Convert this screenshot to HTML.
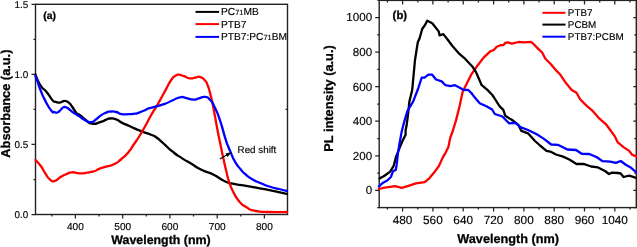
<!DOCTYPE html><html><head><meta charset="utf-8"><style>html,body{margin:0;padding:0;background:#fff;width:637px;height:247px;overflow:hidden}svg{display:block;will-change:transform}text{font-family:"Liberation Sans",sans-serif;fill:#000;stroke:#000;stroke-width:0.15px;text-rendering:geometricPrecision}text.b{font-weight:bold;stroke-width:0.3px}</style></head><body>
<svg width="637" height="247" viewBox="0 0 637 247">
<rect x="35.5" y="4.3" width="252.0" height="210.2" fill="none" stroke="#222" stroke-width="1.4"/>
<path d="M31.5 214.5 H35.5 M33.5 179.5 H35.5 M31.5 144.4 H35.5 M33.5 109.4 H35.5 M31.5 74.4 H35.5 M33.5 39.3 H35.5 M31.5 4.3 H35.5 M51.8 214.5 V216.5 M75.4 214.5 V218.5 M99.0 214.5 V216.5 M122.7 214.5 V218.5 M146.3 214.5 V216.5 M169.9 214.5 V218.5 M193.5 214.5 V216.5 M217.2 214.5 V218.5 M240.8 214.5 V216.5 M264.4 214.5 V218.5 M287.5 109.4 H285.5" stroke="#222" stroke-width="1.25" fill="none"/>
<text x="28.2" y="217.8" font-size="9.9" text-anchor="end">0.0</text>
<text x="28.2" y="147.7" font-size="9.9" text-anchor="end">0.5</text>
<text x="28.2" y="77.7" font-size="9.9" text-anchor="end">1.0</text>
<text x="28.2" y="7.6" font-size="9.9" text-anchor="end">1.5</text>
<text x="75.4" y="230.2" font-size="10.1" text-anchor="middle">400</text>
<text x="122.7" y="230.2" font-size="10.1" text-anchor="middle">500</text>
<text x="169.9" y="230.2" font-size="10.1" text-anchor="middle">600</text>
<text x="217.2" y="230.2" font-size="10.1" text-anchor="middle">700</text>
<text x="264.4" y="230.2" font-size="10.1" text-anchor="middle">800</text>
<text x="161" y="243.7" font-size="12.4" class="b" text-anchor="middle">Wavelength (nm)</text>
<text transform="translate(10.2,103.6) rotate(-90)" font-size="12.8" class="b" text-anchor="middle">Absorbance (a.u.)</text>
<text x="43.3" y="19.3" font-size="10.4" class="b">(a)</text>
<g fill="none" stroke-width="2.3" stroke-linejoin="round" stroke-linecap="round">
<path d="M35.5 74.5 C36.2 76.4 35.7 76.1 37.7 80.2 C39.7 84.3 39.0 83.3 41.5 86.8 C44.0 90.3 42.8 87.7 45.3 90.6 C47.8 93.5 46.6 92.0 49.1 95.4 C51.6 98.8 50.7 98.5 52.9 100.7 C55.1 102.9 53.6 101.3 55.8 101.9 C58.0 102.5 57.4 102.7 59.6 102.6 C61.8 102.5 60.5 102.0 62.4 101.5 C64.3 101.0 63.1 100.5 65.3 101.0 C67.5 101.5 66.9 101.2 69.1 103.0 C71.3 104.8 69.5 103.1 72.0 106.5 C74.5 109.9 74.0 110.4 76.7 113.3 C79.4 116.2 76.9 112.8 80.0 115.1 C83.1 117.4 82.1 117.3 86.1 120.2 C90.1 123.1 87.4 123.0 92.1 123.7 C96.8 124.4 95.5 123.5 100.2 122.2 C104.9 120.9 103.0 120.9 106.3 119.7 C109.6 118.5 106.7 118.6 110.0 118.5 C113.3 118.4 112.2 117.9 116.1 119.3 C120.0 120.7 117.1 120.3 121.7 122.6 C126.3 124.9 125.4 124.2 129.8 126.2 C134.2 128.2 131.0 126.9 135.0 128.6 C139.0 130.3 136.4 129.3 141.9 131.4 C147.4 133.5 146.7 133.0 151.6 135.0 C156.5 137.0 152.5 134.6 156.5 137.5 C160.5 140.4 158.4 139.0 163.7 143.6 C169.0 148.2 166.3 146.6 172.3 151.4 C178.3 156.2 175.4 154.0 181.8 158.1 C188.2 162.2 185.0 160.0 191.4 163.8 C197.8 167.6 193.5 165.8 200.9 169.5 C208.3 173.2 206.2 171.1 213.7 174.8 C221.2 178.5 216.9 177.5 223.3 180.5 C229.7 183.5 225.2 181.9 232.8 183.7 C240.4 185.5 236.0 184.1 246.1 185.8 C256.2 187.5 253.4 187.1 263.2 188.9 C273.0 190.7 267.5 189.7 275.4 191.3 C283.3 192.9 283.1 193.0 287.0 193.8" stroke="#000"/>
<path d="M35.5 160.0 C37.2 161.9 37.3 161.3 40.6 165.7 C43.9 170.1 42.1 168.7 45.3 173.3 C48.5 177.9 46.9 177.1 50.1 179.6 C53.3 182.1 51.3 181.7 54.8 180.9 C58.3 180.1 56.7 179.3 60.5 177.1 C64.3 174.9 62.4 175.8 66.2 174.2 C70.0 172.6 67.6 172.6 72.0 172.3 C76.4 172.0 74.4 173.2 79.5 173.3 C84.6 173.4 82.1 173.5 87.2 172.7 C92.3 171.9 91.0 172.2 94.8 171.0 C98.6 169.8 94.8 170.6 98.6 169.1 C102.4 167.6 101.1 168.2 106.2 166.6 C111.3 165.0 108.7 166.8 113.8 164.3 C118.9 161.8 116.3 163.3 121.4 159.0 C126.5 154.7 125.0 156.1 129.0 151.4 C133.0 146.7 129.1 151.5 133.4 145.0 C137.7 138.5 136.0 142.0 141.9 132.0 C147.8 122.0 146.6 123.1 151.2 115.0 C155.8 106.9 152.7 112.6 155.6 107.8 C158.5 103.0 156.4 106.7 159.8 100.6 C163.2 94.5 162.0 96.5 165.8 89.6 C169.6 82.7 168.0 84.6 171.2 80.0 C174.4 75.4 172.9 77.6 175.5 75.8 C178.1 74.0 176.2 74.6 179.0 74.7 C181.8 74.8 180.4 75.0 184.0 76.2 C187.6 77.4 186.1 77.8 189.8 78.3 C193.5 78.8 191.8 78.2 195.2 77.7 C198.6 77.2 196.7 76.1 199.9 76.9 C203.1 77.7 202.2 77.5 204.7 80.2 C207.2 82.9 205.6 80.2 207.5 84.9 C209.4 89.6 208.6 87.4 210.4 94.4 C212.2 101.4 210.7 94.4 213.0 105.8 C215.3 117.2 214.8 115.9 217.2 128.5 C219.6 141.1 218.2 133.5 220.3 143.7 C222.4 153.9 221.3 148.8 223.5 159.0 C225.7 169.2 225.2 166.7 227.0 174.2 C228.8 181.7 227.1 175.8 229.0 181.4 C230.9 187.0 229.6 184.6 232.8 190.9 C236.0 197.2 234.1 195.0 238.5 200.4 C242.9 205.8 240.4 203.6 246.1 207.1 C251.8 210.6 248.0 209.4 255.6 211.0 C263.2 212.6 258.4 211.7 268.9 212.0 C279.4 212.3 281.0 212.0 287.0 212.0" stroke="#ff0000"/>
<path d="M35.5 76.0 C36.3 78.3 36.5 78.6 38.0 83.0 C39.5 87.4 37.7 83.4 40.1 89.2 C42.5 95.0 41.4 93.3 45.1 100.4 C48.8 107.5 48.1 106.6 51.2 110.5 C54.3 114.4 52.3 111.3 54.3 112.0 C56.3 112.7 55.2 113.2 57.3 112.5 C59.4 111.8 58.4 111.8 60.5 110.0 C62.6 108.2 61.5 108.0 63.5 107.2 C65.5 106.4 64.5 106.7 66.5 107.5 C68.5 108.3 67.5 108.0 69.5 109.5 C71.5 111.0 69.5 109.9 72.5 112.0 C75.5 114.1 74.3 113.1 78.5 115.8 C82.7 118.5 80.9 118.1 85.1 120.2 C89.3 122.3 87.4 122.5 91.1 122.2 C94.8 121.9 92.8 121.6 96.2 119.2 C99.6 116.8 97.9 117.3 101.3 115.1 C104.7 112.9 103.4 113.8 106.3 112.6 C109.2 111.4 106.7 111.8 110.0 111.6 C113.3 111.4 112.2 111.2 116.1 112.0 C120.0 112.8 117.4 113.4 121.7 114.1 C126.0 114.8 124.6 114.2 129.0 114.1 C133.4 114.0 131.8 114.1 135.0 113.7 C138.2 113.3 135.2 113.9 138.5 112.8 C141.8 111.7 141.8 111.7 145.0 110.3 C148.2 108.9 144.6 109.8 148.0 108.6 C151.4 107.4 149.6 108.3 155.2 106.7 C160.8 105.1 159.0 106.0 164.7 103.9 C170.4 101.8 167.2 102.7 172.3 100.5 C177.4 98.3 175.5 98.2 179.9 97.3 C184.3 96.4 181.1 97.1 185.6 97.9 C190.1 98.7 188.8 99.4 193.3 99.6 C197.8 99.8 195.1 99.3 199.0 98.4 C202.9 97.5 201.4 96.4 205.1 96.9 C208.8 97.4 207.0 96.4 210.2 100.0 C213.4 103.6 211.5 100.7 214.8 107.6 C218.1 114.5 216.6 110.3 220.1 120.6 C223.6 130.9 222.6 129.8 225.4 138.6 C228.2 147.4 226.8 142.7 228.4 147.0 C230.0 151.3 228.1 146.4 230.3 151.4 C232.5 156.4 231.6 155.9 235.1 161.9 C238.6 167.9 237.5 165.5 240.8 169.5 C244.1 173.5 241.2 170.5 245.0 173.8 C248.8 177.1 247.0 176.2 252.3 179.3 C257.6 182.4 255.1 180.8 260.8 183.2 C266.5 185.6 263.2 184.6 269.3 186.5 C275.4 188.4 273.2 187.5 279.1 189.0 C285.0 190.5 284.4 190.3 287.0 190.9" stroke="#0000ff"/>
</g>
<path d="M195.5 11.9 H219.1" stroke="#000" stroke-width="2"/>
<path d="M195.5 24.1 H219.1" stroke="#ff0000" stroke-width="2"/>
<path d="M195.5 36.9 H219.1" stroke="#0000ff" stroke-width="2"/>
<text x="221" y="14.7" font-size="10.2">PC<tspan font-size="7.4">71</tspan>MB</text>
<text x="221" y="27.6" font-size="10.2">PTB7</text>
<text x="221" y="39.7" font-size="10.2">PTB7:PC<tspan font-size="7.4">71</tspan>BM</text>
<path d="M219.9 159 L227 154.8" stroke="#000" stroke-width="1.1"/>
<path d="M231.8 152 L225.4 153.4 L227.6 157.1 Z" fill="#000"/>
<text x="237.6" y="152.8" font-size="9.8">Red shift</text>
<rect x="379.2" y="0.4" width="257.1" height="207.2" fill="none" stroke="#222" stroke-width="1.4"/>
<path d="M377.2 207.7 H379.2 M636.3 207.7 H634.3 M375.2 190.4 H379.2 M636.3 190.4 H633.3 M377.2 173.1 H379.2 M636.3 173.1 H634.3 M375.2 155.8 H379.2 M636.3 155.8 H633.3 M377.2 138.5 H379.2 M636.3 138.5 H634.3 M375.2 121.2 H379.2 M636.3 121.2 H633.3 M377.2 104.0 H379.2 M636.3 104.0 H634.3 M375.2 86.7 H379.2 M636.3 86.7 H633.3 M377.2 69.4 H379.2 M636.3 69.4 H634.3 M375.2 52.1 H379.2 M636.3 52.1 H633.3 M377.2 34.8 H379.2 M636.3 34.8 H634.3 M375.2 17.5 H379.2 M636.3 17.5 H633.3 M377.2 0.2 H379.2 M636.3 0.2 H634.3 M387.4 207.6 V209.6 M387.4 0.4 V2.4 M402.6 207.6 V211.6 M402.6 0.4 V4.4 M417.8 207.6 V209.6 M417.8 0.4 V2.4 M432.9 207.6 V211.6 M432.9 0.4 V4.4 M448.1 207.6 V209.6 M448.1 0.4 V2.4 M463.2 207.6 V211.6 M463.2 0.4 V4.4 M478.4 207.6 V209.6 M478.4 0.4 V2.4 M493.6 207.6 V211.6 M493.6 0.4 V4.4 M508.7 207.6 V209.6 M508.7 0.4 V2.4 M523.9 207.6 V211.6 M523.9 0.4 V4.4 M539.0 207.6 V209.6 M539.0 0.4 V2.4 M554.2 207.6 V211.6 M554.2 0.4 V4.4 M569.4 207.6 V209.6 M569.4 0.4 V2.4 M584.5 207.6 V211.6 M584.5 0.4 V4.4 M599.7 207.6 V209.6 M599.7 0.4 V2.4 M614.8 207.6 V211.6 M614.8 0.4 V4.4 M630.0 207.6 V209.6 M630.0 0.4 V2.4" stroke="#222" stroke-width="1.25" fill="none"/>
<text x="372.1" y="194.2" font-size="11.6" text-anchor="end">0</text>
<text x="372.1" y="159.6" font-size="11.6" text-anchor="end">200</text>
<text x="372.1" y="125.0" font-size="11.6" text-anchor="end">400</text>
<text x="372.1" y="90.5" font-size="11.6" text-anchor="end">600</text>
<text x="372.1" y="55.9" font-size="11.6" text-anchor="end">800</text>
<text x="372.1" y="21.3" font-size="11.6" text-anchor="end">1000</text>
<text x="402.6" y="224.1" font-size="11.8" text-anchor="middle">480</text>
<text x="432.9" y="224.1" font-size="11.8" text-anchor="middle">560</text>
<text x="463.2" y="224.1" font-size="11.8" text-anchor="middle">640</text>
<text x="493.6" y="224.1" font-size="11.8" text-anchor="middle">720</text>
<text x="523.9" y="224.1" font-size="11.8" text-anchor="middle">800</text>
<text x="554.2" y="224.1" font-size="11.8" text-anchor="middle">880</text>
<text x="584.5" y="224.1" font-size="11.8" text-anchor="middle">960</text>
<text x="614.8" y="224.1" font-size="11.8" text-anchor="middle">1040</text>
<text x="508.2" y="243.4" font-size="12.7" class="b" text-anchor="middle">Wavelength (nm)</text>
<text transform="translate(333.3,98.5) rotate(-90)" font-size="12.8" class="b" text-anchor="middle">PL intensity (a.u.)</text>
<text x="392.6" y="18.6" font-size="11.4" class="b">(b)</text>
<g fill="none" stroke-width="2.3" stroke-linejoin="round" stroke-linecap="round">
<path d="M379.0 189.0 L384.5 187.6 L390.2 186.9 L395.1 186.2 L401.8 187.8 L408.4 185.9 L416.0 183.4 L424.6 182.1 L429.3 178.3 L434.1 172.6 L438.9 166.0 L442.7 157.6 L445.5 152.8 L448.4 147.1 L450.3 137.6 L453.1 130.0 L456.0 120.4 L459.8 105.2 L462.6 91.9 L465.5 86.1 L471.2 74.7 L477.8 65.2 L483.6 57.6 L490.2 51.4 L493.8 50.0 L496.7 46.7 L500.5 45.2 L503.3 45.2 L505.2 42.9 L508.1 42.4 L511.9 43.7 L518.5 42.0 L524.2 42.4 L530.9 41.8 L532.8 43.3 L537.5 48.1 L542.3 52.8 L545.2 58.5 L550.9 64.2 L556.6 70.9 L560.4 74.8 L566.1 83.3 L571.8 90.0 L576.5 92.8 L580.3 99.5 L587.0 106.1 L592.7 110.9 L598.4 117.6 L606.0 124.3 L610.2 130.0 L615.0 136.7 L617.8 142.4 L623.5 147.1 L629.2 150.9 L632.1 154.7 L637.0 156.6" stroke="#ff0000"/>
<path d="M379.5 178.6 L384.5 175.8 L390.2 171.6 L393.7 165.8 L396.1 156.6 L399.9 147.1 L402.7 140.5 L405.6 134.8 L405.6 130.0 L406.5 126.1 L408.0 114.7 L409.4 101.4 L412.2 90.0 L413.8 72.8 L415.0 60.0 L417.8 42.3 L419.6 38.3 L421.0 33.2 L422.3 28.7 L425.0 25.0 L427.2 20.8 L432.3 23.2 L435.0 26.8 L438.7 31.4 L439.6 35.4 L443.3 34.1 L447.0 38.7 L452.4 46.0 L459.7 54.2 L465.0 58.7 L472.1 66.2 L475.9 71.9 L478.8 78.5 L481.7 85.2 L487.4 89.9 L492.1 94.7 L494.0 97.5 L499.5 106.1 L503.3 109.9 L505.2 115.7 L512.8 120.5 L518.5 125.2 L521.4 130.9 L528.0 133.3 L535.0 141.0 L540.0 145.5 L546.5 150.9 L551.2 151.9 L556.0 154.5 L563.0 156.6 L569.3 159.5 L576.5 164.0 L583.6 163.8 L591.2 166.5 L598.0 167.4 L605.0 171.0 L609.0 174.0 L612.1 172.6 L617.8 173.0 L620.7 173.5 L623.5 177.0 L629.2 175.6 L637.0 178.1" stroke="#000"/>
<path d="M379.0 186.3 L383.1 182.7 L387.3 180.5 L390.9 177.0 L393.0 171.3 L395.8 169.9 L396.6 165.0 L398.0 152.8 L399.9 141.4 L401.8 131.0 L404.6 120.4 L407.5 110.9 L413.2 101.4 L418.0 89.0 L421.7 77.6 L424.6 77.6 L428.4 74.7 L432.2 74.7 L436.0 79.5 L441.7 81.4 L445.5 85.2 L450.3 86.1 L455.0 85.2 L459.8 87.7 L463.6 89.9 L468.3 90.0 L471.2 92.8 L474.0 96.6 L479.7 103.3 L486.4 106.2 L492.1 109.5 L494.8 114.0 L502.4 116.5 L509.0 123.3 L515.7 122.9 L520.4 127.1 L528.0 130.0 L536.3 134.0 L543.6 138.6 L551.2 144.5 L557.9 144.8 L567.4 149.5 L576.0 150.0 L581.7 153.8 L589.3 154.0 L596.9 157.3 L602.6 161.2 L610.2 161.6 L615.9 162.9 L620.7 161.0 L625.4 164.5 L631.1 167.8 L637.0 173.0" stroke="#0000ff"/>
</g>
<path d="M542.4 12.8 H565.5" stroke="#ff0000" stroke-width="2"/>
<path d="M542.4 24.6 H565.5" stroke="#000" stroke-width="2"/>
<path d="M542.4 36.7 H565.5" stroke="#0000ff" stroke-width="2"/>
<text x="567.8" y="15.6" font-size="9.9">PTB7</text>
<text x="567.8" y="27.7" font-size="9.9">PCBM</text>
<text x="567.8" y="39.8" font-size="9.9">PTB7:PCBM</text>
</svg></body></html>
